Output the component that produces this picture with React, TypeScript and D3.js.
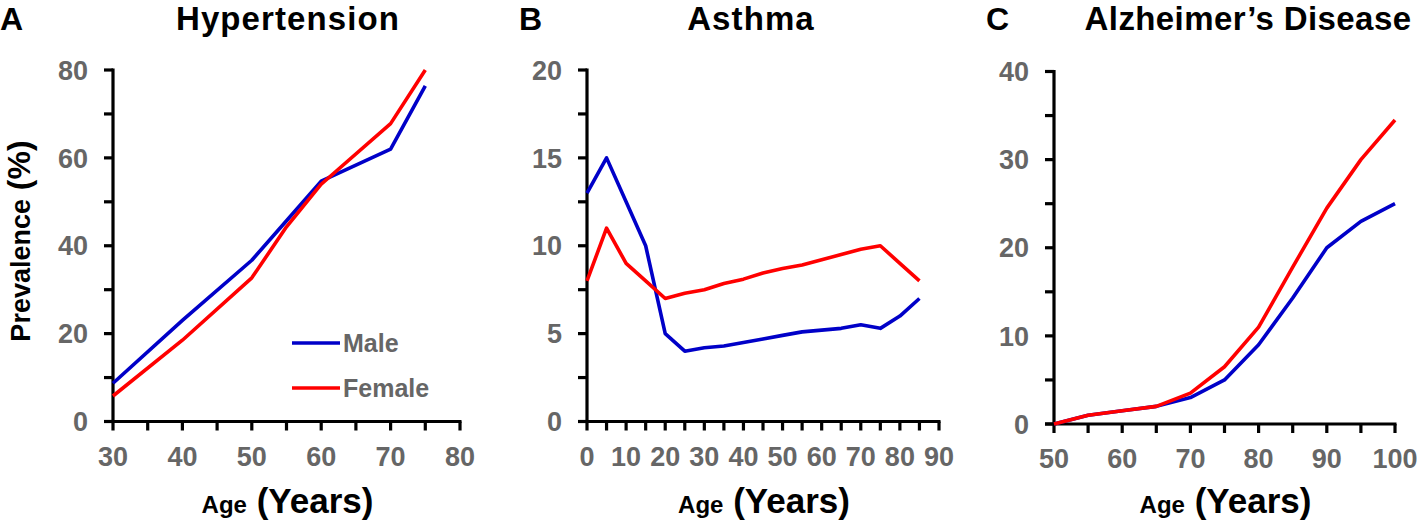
import React from "react";
import * as d3 from "d3";

// ---------- Data ----------
const htAges = [30, 40, 50, 55, 60, 70, 75];
const htMale = [8.7, 23, 36.7, 45.7, 54.7, 62, 76.4];
const htFemale = [5.8, 18.5, 32.7, 44.3, 54, 67.8, 80];

const asAges = [0, 5, 10, 15, 20, 25, 30, 35, 40, 45, 50, 55, 60, 65, 70, 75, 80, 85];
const asMale = [13, 15, 12.5, 10, 5, 4, 4.2, 4.3, 4.5, 4.7, 4.9, 5.1, 5.2, 5.3, 5.5, 5.3, 6.0, 7.0];
const asFemale = [8, 11, 9, 8, 7, 7.3, 7.5, 7.85, 8.1, 8.45, 8.7, 8.9, 9.2, 9.5, 9.8, 10, 9, 8];

const adAges = [50, 55, 60, 65, 70, 75, 80, 85, 90, 95, 100];
const adMale = [0, 1, 1.5, 2, 3, 5, 9, 14.3, 20, 23, 25];
const adFemale = [0, 1, 1.5, 2, 3.5, 6.5, 11, 17.8, 24.5, 30, 34.5];

const titles = ["Hypertension", "Asthma", "Alzheimer\u2019s Disease"];
const letters = ["A", "B", "C"];
const legendLabels = ["Male", "Female"];
const seriesColors = ["#0000C8", "#FF0000"];

const xTicksA = [30, 40, 50, 60, 70, 80];
const yTicksA = [0, 20, 40, 60, 80];
const xTicksB = [0, 10, 20, 30, 40, 50, 60, 70, 80, 90];
const yTicksB = [0, 5, 10, 15, 20];
const xTicksC = [50, 60, 70, 80, 90, 100];
const yTicksC = [0, 10, 20, 30, 40];

// ---------- Layout ----------
const W = 1417;
const H = 525;
const FONT = "'Liberation Sans', Arial, Helvetica, sans-serif";
const TICK_COLOR = "#666666";

type Panel = {
  ages: number[];
  male: number[];
  female: number[];
  xDomain: [number, number];
  yDomain: [number, number];
  xTicks: number[];
  yTicks: number[];
  xMinorStep: number;
  yMinorStep: number;
  left: number;
  right: number;
  top: number;
  bottom: number;
  title: string;
  titleX: number;
  titleSpacing: number;
  letter: string;
  letterX: number;
  legend: boolean;
};

const panels: Panel[] = [
  {
    ages: htAges, male: htMale, female: htFemale,
    xDomain: [30, 80], yDomain: [0, 80], xTicks: xTicksA, yTicks: yTicksA,
    xMinorStep: 5, yMinorStep: 10,
    left: 113, right: 460, top: 70, bottom: 421.5,
    title: titles[0], titleX: 288, titleSpacing: 1.1, letter: letters[0], letterX: 0, legend: true,
  },
  {
    ages: asAges, male: asMale, female: asFemale,
    xDomain: [0, 90], yDomain: [0, 20], xTicks: xTicksB, yTicks: yTicksB,
    xMinorStep: 5, yMinorStep: 2.5,
    left: 587, right: 939, top: 70, bottom: 421.5,
    title: titles[1], titleX: 751, titleSpacing: 1.1, letter: letters[1], letterX: 519, legend: false,
  },
  {
    ages: adAges, male: adMale, female: adFemale,
    xDomain: [50, 100], yDomain: [0, 40], xTicks: xTicksC, yTicks: yTicksC,
    xMinorStep: 5, yMinorStep: 5,
    left: 1054, right: 1395, top: 71.5, bottom: 424,
    title: titles[2], titleX: 1248, titleSpacing: 0.4, letter: letters[2], letterX: 986, legend: false,
  },
];

function PanelView({ p }: { p: Panel }) {
  const x = d3.scaleLinear().domain(p.xDomain).range([p.left, p.right]);
  const y = d3.scaleLinear().domain(p.yDomain).range([p.bottom, p.top]);
  const xMinor = d3.range(p.xDomain[0], p.xDomain[1] + 0.001, p.xMinorStep);
  const yMinor = d3.range(p.yDomain[0], p.yDomain[1] + 0.001, p.yMinorStep);
  const line = d3
    .line<[number, number]>()
    .x((d) => x(d[0]))
    .y((d) => y(d[1]));
  const series = [p.male, p.female];
  const axisW = 3.2;
  const tickLen = 9;
  const cx = (p.left + p.right) / 2;

  return (
    <g>
      {/* letter + title */}
      <text x={p.letterX} y={29.5} fontFamily={FONT} fontWeight="bold" fontSize={32} fill="#000">
        {p.letter}
      </text>
      <text
        x={p.titleX}
        y={29.5}
        fontFamily={FONT}
        fontWeight="bold"
        fontSize={33}
        letterSpacing={p.titleSpacing}
        fill="#000"
        textAnchor="middle"
      >
        {p.title}
      </text>

      {/* y axis */}
      <line x1={p.left} x2={p.left} y1={p.top - 1.5} y2={p.bottom} stroke="#000" strokeWidth={axisW} />
      {yMinor.map((v) => (
        <line key={"yt" + v} x1={p.left - tickLen} x2={p.left} y1={y(v)} y2={y(v)} stroke="#000" strokeWidth={axisW} />
      ))}
      {p.yTicks.map((v) => (
        <text
          key={"yl" + v}
          x={p.left - 25}
          y={y(v)}
          dy="0.36em"
          textAnchor="end"
          fontFamily={FONT}
          fontWeight="bold"
          fontSize={27}
          fill={TICK_COLOR}
        >
          {v}
        </text>
      ))}

      {/* x axis */}
      <line x1={p.left - tickLen} x2={p.right + 1.5} y1={p.bottom} y2={p.bottom} stroke="#000" strokeWidth={axisW} />
      {xMinor.map((v) => (
        <line key={"xt" + v} x1={x(v)} x2={x(v)} y1={p.bottom} y2={p.bottom + tickLen} stroke="#000" strokeWidth={axisW} />
      ))}
      {p.xTicks.map((v) => (
        <text
          key={"xl" + v}
          x={x(v)}
          y={p.bottom + 44}
          textAnchor="middle"
          fontFamily={FONT}
          fontWeight="bold"
          fontSize={27}
          fill={TICK_COLOR}
        >
          {v}
        </text>
      ))}

      {/* x axis title */}
      <text x={cx + 1} y={513} textAnchor="middle" fontFamily={FONT} fontWeight="bold" fill="#000">
        <tspan fontSize={24}>Age</tspan>
        <tspan fontSize={35}> (Years)</tspan>
      </text>

      {/* series */}
      {series.map((vals, i) => (
        <path
          key={"s" + i}
          d={line(p.ages.map((a, j) => [a, vals[j]] as [number, number])) || ""}
          fill="none"
          stroke={seriesColors[i]}
          strokeWidth={3.6}
          strokeLinejoin="round"
        />
      ))}

      {p.legend &&
        legendLabels.map((lab, i) => {
          const ly = 343 + i * 45;
          return (
            <g key={"lg" + i}>
              <line x1={292} x2={340} y1={ly} y2={ly} stroke={seriesColors[i]} strokeWidth={3.6} />
              <text x={343} y={ly} dy="0.36em" fontFamily={FONT} fontWeight="bold" fontSize={25} fill={TICK_COLOR}>
                {lab}
              </text>
            </g>
          );
        })}
    </g>
  );
}

export default function App() {
  return (
    <svg
      width={W}
      height={H}
      viewBox={`0 0 ${W} ${H}`}
      style={{ position: "absolute", left: 0, top: 0, background: "#fff" }}
    >
      <rect x={0} y={0} width={W} height={H} fill="#fff" />
      {panels.map((p, i) => (
        <PanelView key={i} p={p} />
      ))}
      <text
        transform="translate(30,241) rotate(-90)"
        textAnchor="middle"
        fontFamily={FONT}
        fontWeight="bold"
        fill="#000"
      >
        <tspan fontSize={27}>Prevalence</tspan>
        <tspan fontSize={32}> (%)</tspan>
      </text>
    </svg>
  );
}
